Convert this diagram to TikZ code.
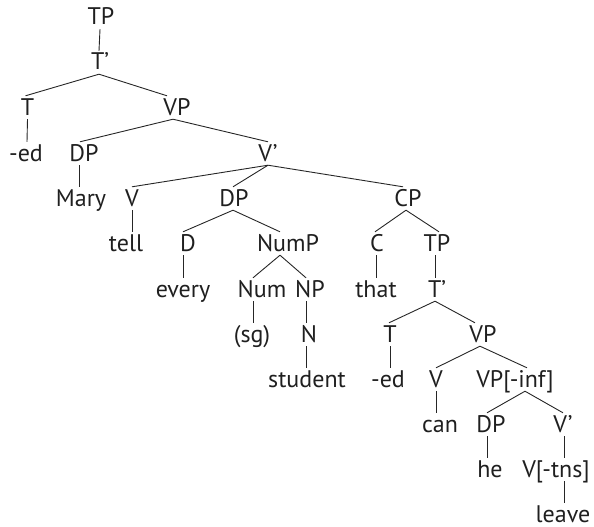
\documentclass[tikz,border=0pt]{standalone}
\usepackage{fontspec}
\setmainfont{PT Sans}
\newcommand\treeedge[4]{\draw[edge] ([xshift=#2pt]#1.south) -- ([xshift=#4pt]#3.north);}
\begin{document}
\begin{tikzpicture}[x=1pt,y=-1pt,
  lab/.style={anchor=base,inner sep=0pt,text height=19pt,text depth=4pt,
    font=\fontsize{24}{28}\selectfont,text=black!88},
  edge/.style={line width=0.9pt,black!85}]
\useasboundingbox (0,0) rectangle (594,527);
% row 0
\node[lab] (tp) at (101,25) {TP};
% row 1
\node[lab] (tbar) at (100,70) {T’};
% row 2
\node[lab] (t1) at (27.5,115) {T};
\node[lab] (vp1) at (177,115) {VP};
% row 3
\node[lab] (ed1) at (26,161) {-ed};
\node[lab] (dp1) at (84,161) {DP};
\node[lab] (vbar1) at (268,161) {V’};
% row 4
\node[lab] (mary) at (81,206) {Mary};
\node[lab] (v1) at (132,206) {V};
\node[lab] (dp2) at (234,206) {DP};
\node[lab] (cp) at (408,206) {CP};
% row 5
\node[lab] (tell) at (126,251) {tell};
\node[lab] (d) at (188,251) {D};
\node[lab] (nump) at (288,251) {NumP};
\node[lab] (c) at (377,251) {C};
\node[lab] (tp2) at (437,251) {TP};
% row 6
\node[lab] (every) at (183,297) {every};
\node[lab] (num) at (262,297) {Num};
\node[lab] (np) at (310,297) {NP};
\node[lab] (that) at (376,297) {that};
\node[lab] (tbar2) at (437,297) {T’};
% row 7
\node[lab] (sg) at (252,342) {(sg)};
\node[lab] (n) at (309,342) {N};
\node[lab] (t2) at (390,342) {T};
\node[lab] (vp2) at (483,342) {VP};
% row 8
\node[lab] (student) at (307,387) {student};
\node[lab] (ed2) at (388,387) {-ed};
\node[lab] (v2) at (436,387) {V};
\node[lab] (vpinf) at (515,387) {VP[-inf]};
% row 9
\node[lab] (can) at (440,432) {can};
\node[lab] (dp3) at (491,432) {DP};
\node[lab] (vbar2) at (563,432) {V’};
% row 10
\node[lab] (he) at (490,477) {he};
\node[lab] (vtns) at (556,477) {V[-tns]};
% row 11
\node[lab] (leave) at (563,522) {leave};
% edges
\treeedge{tp}{-1}{tbar}{-1}
\treeedge{tbar}{-1}{t1}{-2}
\treeedge{tbar}{-1}{vp1}{-10}
\treeedge{t1}{0}{ed1}{1}
\treeedge{vp1}{-4}{dp1}{-4}
\treeedge{vp1}{-4}{vbar1}{0}
\treeedge{dp1}{-5}{mary}{-2}
\treeedge{vbar1}{0}{v1}{0}
\treeedge{vbar1}{0}{dp2}{-1}
\treeedge{vbar1}{0}{cp}{-5}
\treeedge{v1}{0}{tell}{6}
\treeedge{dp2}{-1}{d}{-5}
\treeedge{dp2}{-1}{nump}{-8}
\treeedge{d}{-5}{every}{0}
\treeedge{nump}{-8}{num}{-9}
\treeedge{nump}{-8}{np}{-4}
\treeedge{num}{-9}{sg}{1}
\treeedge{np}{-4}{n}{-3}
\treeedge{n}{-3}{student}{-1}
\treeedge{cp}{-2}{c}{-2}
\treeedge{cp}{-2}{tp2}{2}
\treeedge{c}{-1}{that}{0}
\treeedge{tp2}{-2}{tbar2}{-2}
\treeedge{tbar2}{-2}{t2}{-1}
\treeedge{tbar2}{-2}{vp2}{-8}
\treeedge{t2}{0}{ed2}{2}
\treeedge{vp2}{-3}{v2}{0}
\treeedge{vp2}{-3}{vpinf}{12}
\treeedge{v2}{0}{can}{-4}
\treeedge{vpinf}{10}{dp3}{-4}
\treeedge{vpinf}{10}{vbar2}{0}
\treeedge{dp3}{-4}{he}{-3}
\treeedge{vbar2}{1}{vtns}{8}
\treeedge{vtns}{8}{leave}{1}
\end{tikzpicture}
\end{document}
